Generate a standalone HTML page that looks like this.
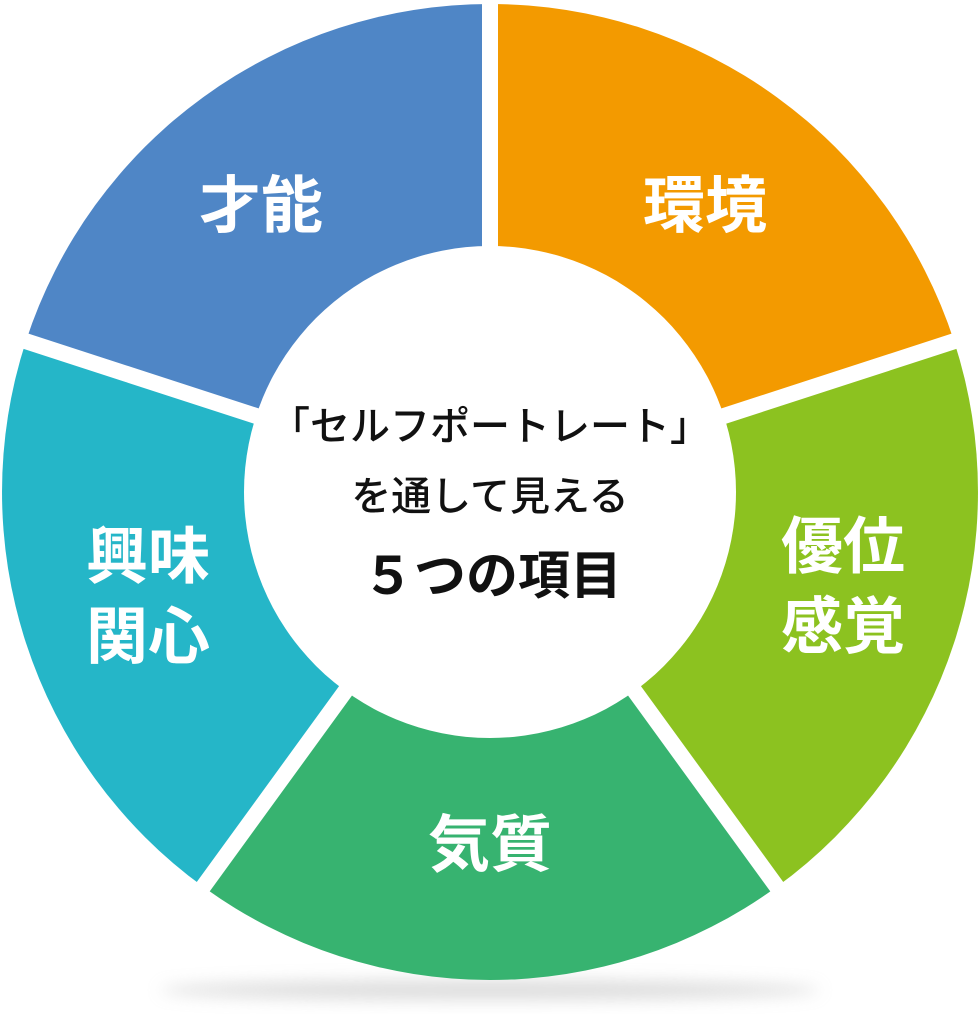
<!DOCTYPE html>
<html><head><meta charset="utf-8"><style>
html,body{margin:0;padding:0;background:#fff;}
svg{display:block;}
text{font-family:"Liberation Sans","Noto Sans CJK JP",sans-serif;}
</style></head><body>
<svg width="980" height="1014" viewBox="0 0 980 1014" xmlns="http://www.w3.org/2000/svg">
<defs>
<filter id="b" x="-20%" y="-200%" width="140%" height="500%"><feGaussianBlur stdDeviation="8"/></filter>
</defs>
<ellipse cx="490" cy="990" rx="330" ry="10" fill="#bbb" opacity="0.5" filter="url(#b)"/>
<g transform="translate(490,492)">
<path d="M0 0 L0 -488 A488 488 0 0 1 464.1 -150.8 Z" fill="#f39a00"/>
<path d="M0 0 L464.1 -150.8 A488 488 0 0 1 286.8 394.8 Z" fill="#8cc220"/>
<path d="M0 0 L286.8 394.8 A488 488 0 0 1 -286.8 394.8 Z" fill="#37b370"/>
<path d="M0 0 L-286.8 394.8 A488 488 0 0 1 -464.1 -150.8 Z" fill="#25b6c8"/>
<path d="M0 0 L-464.1 -150.8 A488 488 0 0 1 0 -488 Z" fill="#4f86c6"/>
<g stroke="#fff" stroke-width="16">
<line x1="0" y1="0" x2="0" y2="-500"/>
<line x1="0" y1="0" x2="475.5" y2="-154.5"/>
<line x1="0" y1="0" x2="293.9" y2="404.5"/>
<line x1="0" y1="0" x2="-293.9" y2="404.5"/>
<line x1="0" y1="0" x2="-475.5" y2="-154.5"/>
</g>
<circle r="246" fill="#fff"/>
</g>
<g fill="#fff" font-weight="bold" font-size="62" text-anchor="middle">
<text x="261" y="227">才能</text>
<text x="705" y="227">環境</text>
<text x="843" y="568">優位</text>
<text x="843" y="648">感覚</text>
<text x="490" y="866">気質</text>
<text x="148" y="578">興味</text>
<text x="148" y="658">関心</text>
</g>
<g fill="#111" text-anchor="middle">
<text x="490" y="440" font-size="40" font-weight="500">「セルフポートレート」</text>
<text x="490" y="510" font-size="40" font-weight="500">を通して見える</text>
<text x="492" y="594" font-size="52" font-weight="bold">５つの項目</text>
</g>
</svg>
</body></html>
